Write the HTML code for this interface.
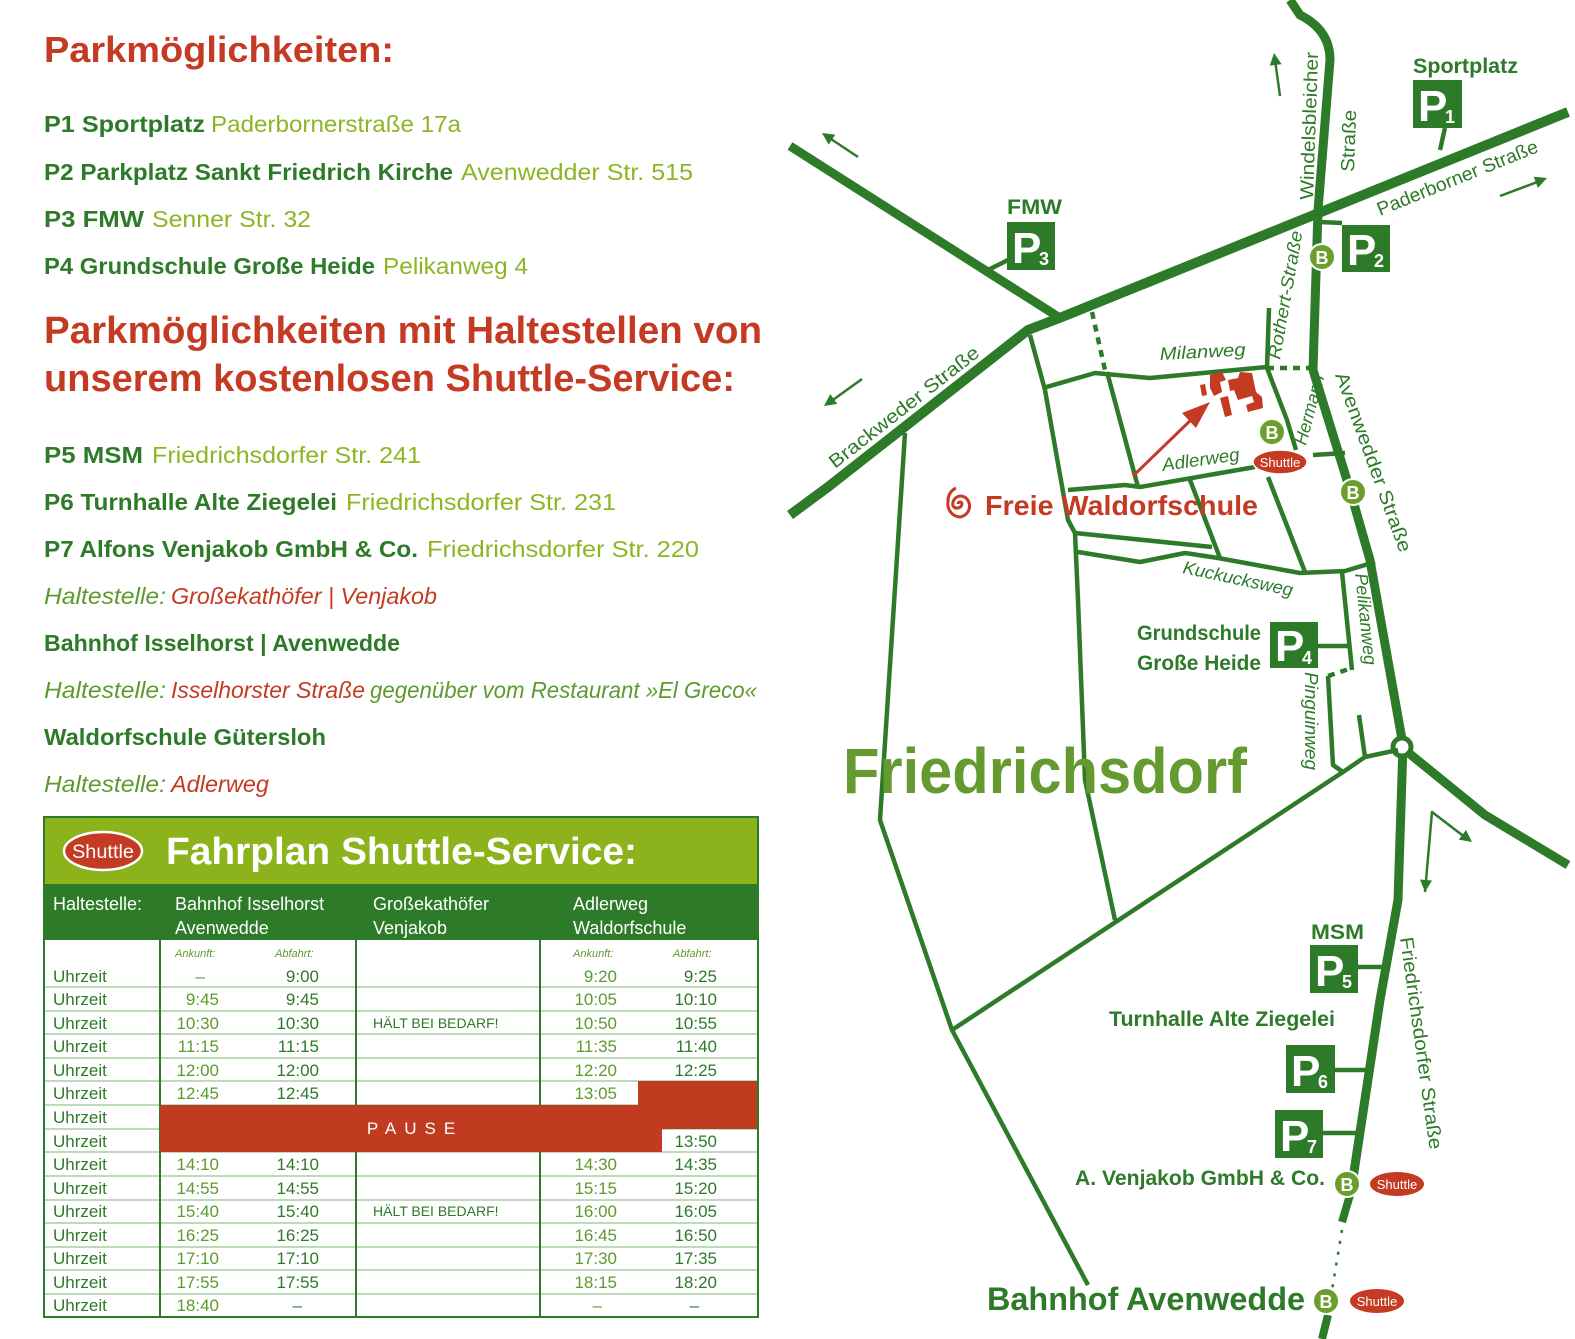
<!DOCTYPE html>
<html><head><meta charset="utf-8"><style>
html,body{margin:0;padding:0;background:#fff;}
svg{display:block;font-family:"Liberation Sans",sans-serif;}
</style></head><body>
<svg width="1575" height="1339" viewBox="0 0 1575 1339" xmlns="http://www.w3.org/2000/svg">
<!-- LEFT TEXT -->
<g font-weight="bold">
<text x="44" y="62" font-size="36" fill="#c43a22" textLength="350" lengthAdjust="spacingAndGlyphs">Parkmöglichkeiten:</text>
<text x="44" y="132" font-size="23" fill="#2d7a28" textLength="161" lengthAdjust="spacingAndGlyphs">P1  Sportplatz</text>
<text x="44" y="180" font-size="23" fill="#2d7a28" textLength="409" lengthAdjust="spacingAndGlyphs">P2  Parkplatz Sankt Friedrich Kirche</text>
<text x="44" y="227" font-size="23" fill="#2d7a28" textLength="100" lengthAdjust="spacingAndGlyphs">P3  FMW</text>
<text x="44" y="274" font-size="23" fill="#2d7a28" textLength="331" lengthAdjust="spacingAndGlyphs">P4  Grundschule Große Heide</text>
<text x="44" y="343" font-size="38" fill="#c43a22" textLength="718" lengthAdjust="spacingAndGlyphs">Parkmöglichkeiten mit Haltestellen von</text>
<text x="44" y="391" font-size="38" fill="#c43a22" textLength="691" lengthAdjust="spacingAndGlyphs">unserem kostenlosen Shuttle-Service:</text>
<text x="44" y="463" font-size="23" fill="#2d7a28" textLength="99" lengthAdjust="spacingAndGlyphs">P5 MSM</text>
<text x="44" y="510" font-size="23" fill="#2d7a28" textLength="293" lengthAdjust="spacingAndGlyphs">P6 Turnhalle Alte Ziegelei</text>
<text x="44" y="557" font-size="23" fill="#2d7a28" textLength="374" lengthAdjust="spacingAndGlyphs">P7  Alfons Venjakob GmbH &amp; Co.</text>
<text x="44" y="651" font-size="23" fill="#2d7a28" textLength="356" lengthAdjust="spacingAndGlyphs">Bahnhof Isselhorst | Avenwedde</text>
<text x="44" y="745" font-size="23" fill="#2d7a28" textLength="282" lengthAdjust="spacingAndGlyphs">Waldorfschule Gütersloh</text>
</g>
<g font-size="23" fill="#8db523">
<text x="211" y="132" textLength="250" lengthAdjust="spacingAndGlyphs">Paderbornerstraße 17a</text>
<text x="461" y="180" textLength="232" lengthAdjust="spacingAndGlyphs">Avenwedder Str. 515</text>
<text x="152" y="227" textLength="159" lengthAdjust="spacingAndGlyphs">Senner Str. 32</text>
<text x="383" y="274" textLength="145" lengthAdjust="spacingAndGlyphs">Pelikanweg 4</text>
<text x="152" y="463" textLength="269" lengthAdjust="spacingAndGlyphs">Friedrichsdorfer Str. 241</text>
<text x="346" y="510" textLength="270" lengthAdjust="spacingAndGlyphs">Friedrichsdorfer Str. 231</text>
<text x="427" y="557" textLength="272" lengthAdjust="spacingAndGlyphs">Friedrichsdorfer Str. 220</text>
</g>
<g font-size="23" font-style="italic">
<text x="44" y="604" fill="#5c9a2e" textLength="122" lengthAdjust="spacingAndGlyphs">Haltestelle:</text>
<text x="171" y="604" fill="#c43a22" textLength="266" lengthAdjust="spacingAndGlyphs">Großekathöfer | Venjakob</text>
<text x="44" y="698" fill="#5c9a2e" textLength="122" lengthAdjust="spacingAndGlyphs">Haltestelle:</text>
<text x="171" y="698" fill="#c43a22" textLength="194" lengthAdjust="spacingAndGlyphs">Isselhorster Straße</text>
<text x="370" y="698" fill="#5c9a2e" textLength="387" lengthAdjust="spacingAndGlyphs">gegenüber vom Restaurant »El Greco«</text>
<text x="44" y="792" fill="#5c9a2e" textLength="122" lengthAdjust="spacingAndGlyphs">Haltestelle:</text>
<text x="171" y="792" fill="#c43a22" textLength="98" lengthAdjust="spacingAndGlyphs">Adlerweg</text>
</g>

<!-- TABLE -->
<rect x="44" y="817" width="714" height="67" fill="#8cb31b"/>
<rect x="44" y="884" width="714" height="56" fill="#2d7a28"/>
<ellipse cx="103" cy="851" rx="39" ry="19" fill="#c43a22" stroke="#fff" stroke-width="2.5"/>
<text x="103" y="858" font-size="19" fill="#fff" text-anchor="middle" textLength="62" lengthAdjust="spacingAndGlyphs">Shuttle</text>
<text x="166" y="864" font-size="38" font-weight="bold" fill="#fff" textLength="471" lengthAdjust="spacingAndGlyphs">Fahrplan Shuttle-Service:</text>
<g font-size="18" fill="#fff">
<text x="53" y="910">Haltestelle:</text>
<text x="175" y="910">Bahnhof Isselhorst</text><text x="175" y="934">Avenwedde</text>
<text x="373" y="910">Großekathöfer</text><text x="373" y="934">Venjakob</text>
<text x="573" y="910">Adlerweg</text><text x="573" y="934">Waldorfschule</text>
</g>
<g stroke="#a6cf9f" stroke-width="1.5">
<line x1="44" y1="987" x2="758" y2="987"/><line x1="44" y1="1011" x2="758" y2="1011"/><line x1="44" y1="1034" x2="758" y2="1034"/><line x1="44" y1="1058" x2="758" y2="1058"/><line x1="44" y1="1081" x2="758" y2="1081"/><line x1="44" y1="1105" x2="758" y2="1105"/><line x1="44" y1="1129" x2="758" y2="1129"/><line x1="44" y1="1152" x2="758" y2="1152"/><line x1="44" y1="1176" x2="758" y2="1176"/><line x1="44" y1="1200" x2="758" y2="1200"/><line x1="44" y1="1223" x2="758" y2="1223"/><line x1="44" y1="1247" x2="758" y2="1247"/><line x1="44" y1="1270" x2="758" y2="1270"/><line x1="44" y1="1294" x2="758" y2="1294"/>
</g>
<g stroke="#2d7a28" stroke-width="2" fill="none">
<line x1="160" y1="884" x2="160" y2="1317"/><line x1="356" y1="940" x2="356" y2="1317"/><line x1="540" y1="940" x2="540" y2="1317"/>
</g>
<polygon points="160,1105 638,1105 638,1081 758,1081 758,1129 662,1129 662,1152 160,1152" fill="#c03b20"/>
<text x="415" y="1134" font-size="17" fill="#fff" text-anchor="middle" letter-spacing="8">PAUSE</text>
<rect x="44" y="817" width="714" height="500" fill="none" stroke="#2d7a28" stroke-width="2"/>
<g font-size="11" font-style="italic" fill="#5c9a2e">
<text x="175" y="957">Ankunft:</text><text x="275" y="957">Abfahrt:</text>
<text x="573" y="957">Ankunft:</text><text x="673" y="957">Abfahrt:</text>
</g>
<g font-size="17" fill="#2d7a28">
<text x="53" y="982">Uhrzeit</text><text x="53" y="1005">Uhrzeit</text><text x="53" y="1029">Uhrzeit</text><text x="53" y="1052">Uhrzeit</text><text x="53" y="1076">Uhrzeit</text><text x="53" y="1099">Uhrzeit</text><text x="53" y="1123">Uhrzeit</text><text x="53" y="1147">Uhrzeit</text><text x="53" y="1170">Uhrzeit</text><text x="53" y="1194">Uhrzeit</text><text x="53" y="1217">Uhrzeit</text><text x="53" y="1241">Uhrzeit</text><text x="53" y="1264">Uhrzeit</text><text x="53" y="1288">Uhrzeit</text><text x="53" y="1311">Uhrzeit</text>
</g>
<g font-size="17" fill="#5c9a2e" text-anchor="end">
<text x="205" y="982">–</text><text x="219" y="1005">9:45</text><text x="219" y="1029">10:30</text><text x="219" y="1052">11:15</text><text x="219" y="1076">12:00</text><text x="219" y="1099">12:45</text><text x="219" y="1170">14:10</text><text x="219" y="1194">14:55</text><text x="219" y="1217">15:40</text><text x="219" y="1241">16:25</text><text x="219" y="1264">17:10</text><text x="219" y="1288">17:55</text><text x="219" y="1311">18:40</text>
<text x="617" y="982">9:20</text><text x="617" y="1005">10:05</text><text x="617" y="1029">10:50</text><text x="617" y="1052">11:35</text><text x="617" y="1076">12:20</text><text x="617" y="1099">13:05</text><text x="617" y="1170">14:30</text><text x="617" y="1194">15:15</text><text x="617" y="1217">16:00</text><text x="617" y="1241">16:45</text><text x="617" y="1264">17:30</text><text x="617" y="1288">18:15</text><text x="602" y="1311">–</text>
</g>
<g font-size="17" fill="#2d7a28" text-anchor="end">
<text x="319" y="982">9:00</text><text x="319" y="1005">9:45</text><text x="319" y="1029">10:30</text><text x="319" y="1052">11:15</text><text x="319" y="1076">12:00</text><text x="319" y="1099">12:45</text><text x="319" y="1170">14:10</text><text x="319" y="1194">14:55</text><text x="319" y="1217">15:40</text><text x="319" y="1241">16:25</text><text x="319" y="1264">17:10</text><text x="319" y="1288">17:55</text><text x="302" y="1311">–</text>
<text x="717" y="982">9:25</text><text x="717" y="1005">10:10</text><text x="717" y="1029">10:55</text><text x="717" y="1052">11:40</text><text x="717" y="1076">12:25</text><text x="717" y="1147">13:50</text><text x="717" y="1170">14:35</text><text x="717" y="1194">15:20</text><text x="717" y="1217">16:05</text><text x="717" y="1241">16:50</text><text x="717" y="1264">17:35</text><text x="717" y="1288">18:20</text><text x="699" y="1311">–</text>
</g>
<g font-size="14" fill="#2d7a28">
<text x="373" y="1028">HÄLT BEI BEDARF!</text><text x="373" y="1216">HÄLT BEI BEDARF!</text>
</g>

<!-- MAP -->
<g stroke="#2d7a28" fill="none" stroke-linejoin="round" stroke-linecap="butt">
<polyline points="790,515 828,487 1028,330 1062,317 1568,112" stroke-width="10"/>
<polyline points="790,146 1060,318" stroke-width="9"/>
<path d="M1290,0 L1300,15 Q1330,30 1330,60 L1318,210 L1313,370 L1350,490 L1370,560 L1403,745 L1398,900 L1380,1000 L1352,1185" stroke-width="9"/>
<polyline points="1350,1195 1342,1222" stroke-width="8"/>
<polyline points="1328,1315 1322,1339" stroke-width="8"/>
<path d="M1342,1230 L1332,1290" stroke-width="2.5" stroke-dasharray="3,8"/>
<polyline points="1405,750 1485,815 1568,865" stroke-width="9"/>
<circle cx="1402" cy="747" r="9" stroke-width="5" fill="#fff"/>
<g stroke-width="4.5">
<polyline points="1030,335 1045,390 1068,520 1075,533 1078,600 1085,780 1115,920"/>
<polyline points="905,433 880,820 952,1030 1088,1285"/>
<polyline points="952,1030 1343,772 1365,757 1398,750"/>
<line x1="1359" y1="715" x2="1365" y2="757"/>
<polyline points="1328,676 1333,765 1343,772"/>
<polyline points="1043,388 1095,373 1150,378 1267,367"/>
<polyline points="1107,372 1138,487"/>
<polyline points="1068,490 1125,485 1140,487 1255,467"/>
<polyline points="1313,455 1345,453"/>
<polyline points="1269,308 1267,368 1287,420 1296,450"/>
<polyline points="1268,477 1305,572"/>
<polyline points="1075,533 1212,547"/>
<polyline points="1078,552 1140,562 1185,553 1218,558 1300,573 1345,571 1375,562"/>
<polyline points="1190,480 1220,558"/>
<polyline points="1342,572 1352,670"/>
<line x1="1318" y1="646" x2="1350" y2="646"/>
<line x1="1440" y1="150" x2="1445" y2="128"/>
<line x1="1320" y1="222" x2="1342" y2="223"/>
<line x1="988" y1="270" x2="1008" y2="260"/>
<line x1="1358" y1="967" x2="1384" y2="967"/>
<line x1="1335" y1="1070" x2="1366" y2="1070"/>
<line x1="1323" y1="1133" x2="1358" y2="1133"/>
</g>
<g stroke-width="4.5" stroke-dasharray="7,6">
<line x1="1092" y1="312" x2="1105" y2="370"/>
<line x1="1267" y1="368" x2="1312" y2="368"/>
<line x1="1328" y1="676" x2="1352" y2="668"/>
</g>
<g stroke-width="2.5">
<line x1="858" y1="157" x2="828" y2="137"/>
<line x1="862" y1="379" x2="830" y2="402"/>
<line x1="1280" y1="96" x2="1275" y2="60"/>
<line x1="1500" y1="196" x2="1540" y2="181"/>
<polyline points="1425,892 1432,812 1466,838"/>
</g>
</g>
<g fill="#2d7a28">
<polygon points="822,133 835.3,134.6 828.7,144.6"/>
<polygon points="824,406 837.3,403.9 830.3,394.1"/>
<polygon points="1274,53 1281.6,64.1 1269.8,65.7"/>
<polygon points="1547,178 1537.9,187.9 1533.7,176.7"/>
<polygon points="1472,842 1466,830 1458.8,839.6"/>
<polygon points="1425,892 1432,880.5 1420,879.5"/>
</g>
<line x1="1133" y1="476" x2="1195" y2="416" stroke="#c43a22" stroke-width="3"/>
<polygon points="1210,402 1182,413 1196,428" fill="#c43a22"/>
<g fill="#c43a22">
<polygon points="1210,375 1222,372 1226,380 1220,382 1222,392 1214,396 1210,388"/>
<polygon points="1228,380 1238,378 1240,372 1252,373 1256,392 1262,397 1263,408 1248,412 1246,405 1254,402 1252,396 1238,400 1234,390 1230,391"/>
<polygon points="1220,398 1228,396 1232,415 1225,417"/>
<polygon points="1200,385 1205,384 1207,395 1202,396"/>
</g>
<g font-weight="bold" fill="#fff">
<rect x="1413" y="80" width="49" height="48" fill="#2d7a28"/><text x="1418" y="121" font-size="44">P</text><text x="1445" y="123" font-size="18">1</text>
<rect x="1007" y="222" width="48" height="48" fill="#2d7a28"/><text x="1012" y="263" font-size="44">P</text><text x="1039" y="265" font-size="18">3</text>
<rect x="1342" y="225" width="48" height="47" fill="#2d7a28"/><text x="1347" y="265" font-size="44">P</text><text x="1374" y="267" font-size="18">2</text>
<rect x="1270" y="622" width="48" height="46" fill="#2d7a28"/><text x="1275" y="661" font-size="44">P</text><text x="1302" y="664" font-size="18">4</text>
<rect x="1310" y="945" width="48" height="48" fill="#2d7a28"/><text x="1315" y="986" font-size="44">P</text><text x="1342" y="988" font-size="18">5</text>
<rect x="1286" y="1045" width="49" height="48" fill="#2d7a28"/><text x="1291" y="1086" font-size="44">P</text><text x="1318" y="1088" font-size="18">6</text>
<rect x="1275" y="1110" width="48" height="48" fill="#2d7a28"/><text x="1280" y="1151" font-size="44">P</text><text x="1307" y="1153" font-size="18">7</text>
</g>
<g>
<circle cx="1322" cy="257" r="13" fill="#6b9e2c" stroke="#fff" stroke-width="2"/><text x="1322" y="264" font-size="18" font-weight="bold" fill="#fff" text-anchor="middle">B</text>
<circle cx="1272" cy="432" r="13" fill="#6b9e2c" stroke="#fff" stroke-width="2"/><text x="1272" y="439" font-size="18" font-weight="bold" fill="#fff" text-anchor="middle">B</text>
<circle cx="1353" cy="492" r="13" fill="#6b9e2c" stroke="#fff" stroke-width="2"/><text x="1353" y="499" font-size="18" font-weight="bold" fill="#fff" text-anchor="middle">B</text>
<circle cx="1347" cy="1184" r="13" fill="#6b9e2c" stroke="#fff" stroke-width="2"/><text x="1347" y="1191" font-size="18" font-weight="bold" fill="#fff" text-anchor="middle">B</text>
<circle cx="1326" cy="1301" r="13" fill="#6b9e2c" stroke="#fff" stroke-width="2"/><text x="1326" y="1308" font-size="18" font-weight="bold" fill="#fff" text-anchor="middle">B</text>
</g>
<g font-size="13" fill="#fff" text-anchor="middle">
<ellipse cx="1280" cy="462" rx="27" ry="12" fill="#c43a22" stroke="#fff" stroke-width="1.5"/><text x="1280" y="467">Shuttle</text>
<ellipse cx="1397" cy="1184" rx="27" ry="12" fill="#c43a22"/><text x="1397" y="1189">Shuttle</text>
<ellipse cx="1377" cy="1301" rx="27" ry="12" fill="#c43a22"/><text x="1377" y="1306">Shuttle</text>
</g>
<g font-weight="bold" fill="#2d7a28" font-size="21">
<text x="1413" y="73" textLength="105" lengthAdjust="spacingAndGlyphs">Sportplatz</text>
<text x="1007" y="214" textLength="55" lengthAdjust="spacingAndGlyphs">FMW</text>
<text x="1261" y="640" text-anchor="end" textLength="124" lengthAdjust="spacingAndGlyphs">Grundschule</text>
<text x="1261" y="670" text-anchor="end" textLength="124" lengthAdjust="spacingAndGlyphs">Große Heide</text>
<text x="1311" y="939" textLength="53" lengthAdjust="spacingAndGlyphs">MSM</text>
<text x="1109" y="1026" textLength="226" lengthAdjust="spacingAndGlyphs">Turnhalle Alte Ziegelei</text>
<text x="1075" y="1185" textLength="250" lengthAdjust="spacingAndGlyphs">A. Venjakob GmbH &amp; Co.</text>
<text x="987" y="1310" font-size="32" textLength="318" lengthAdjust="spacingAndGlyphs">Bahnhof Avenwedde</text>
</g>
<text x="843" y="793" font-size="64" font-weight="bold" fill="#659a30" textLength="404" lengthAdjust="spacingAndGlyphs">Friedrichsdorf</text>
<text x="985" y="515" font-size="28" font-weight="bold" fill="#c43a22" textLength="273" lengthAdjust="spacingAndGlyphs">Freie Waldorfschule</text>
<path d="M958,504 m0,0 a2,2 0 0 1 4,0 a5,5 0 0 1 -9,2 a8,8 0 0 1 13,-8 a11,11 0 0 1 -6,19 a13,13 0 0 1 -12,-15 a14,14 0 0 1 8,-14" fill="none" stroke="#c43a22" stroke-width="3"/>
<g fill="#2d7a28" font-size="19">
<text transform="translate(1313,200) rotate(-88)" textLength="148" lengthAdjust="spacingAndGlyphs">Windelsbleicher</text>
<text transform="translate(1354,172) rotate(-88)" textLength="62" lengthAdjust="spacingAndGlyphs">Straße</text>
<text transform="translate(1380,216) rotate(-22)" textLength="172" lengthAdjust="spacingAndGlyphs">Paderborner Straße</text>
<text transform="translate(835,469) rotate(-38)" textLength="185" lengthAdjust="spacingAndGlyphs">Brackweder Straße</text>
<text transform="translate(1335,375) rotate(70)" textLength="190" lengthAdjust="spacingAndGlyphs">Avenwedder Straße</text>
<text transform="translate(1400,938) rotate(82)" textLength="214" lengthAdjust="spacingAndGlyphs">Friedrichsdorfer Straße</text>
</g>
<g fill="#2d7a28" font-size="18" font-style="italic">
<text transform="translate(1280,360) rotate(-80)" textLength="130" lengthAdjust="spacingAndGlyphs">Rothert-Straße</text>
<text transform="translate(1306,446) rotate(-75)" textLength="72" lengthAdjust="spacingAndGlyphs">Hermann</text>
<text transform="translate(1160,360) rotate(-3)" textLength="86" lengthAdjust="spacingAndGlyphs">Milanweg</text>
<text transform="translate(1163,471) rotate(-8)" textLength="78" lengthAdjust="spacingAndGlyphs">Adlerweg</text>
<text transform="translate(1182,573) rotate(12)" textLength="112" lengthAdjust="spacingAndGlyphs">Kuckucksweg</text>
<text transform="translate(1355,574) rotate(84)" textLength="92" lengthAdjust="spacingAndGlyphs">Pelikanweg</text>
<text transform="translate(1305,672) rotate(90)" textLength="98" lengthAdjust="spacingAndGlyphs">Pinguinweg</text>
</g>
</svg>
</body></html>
